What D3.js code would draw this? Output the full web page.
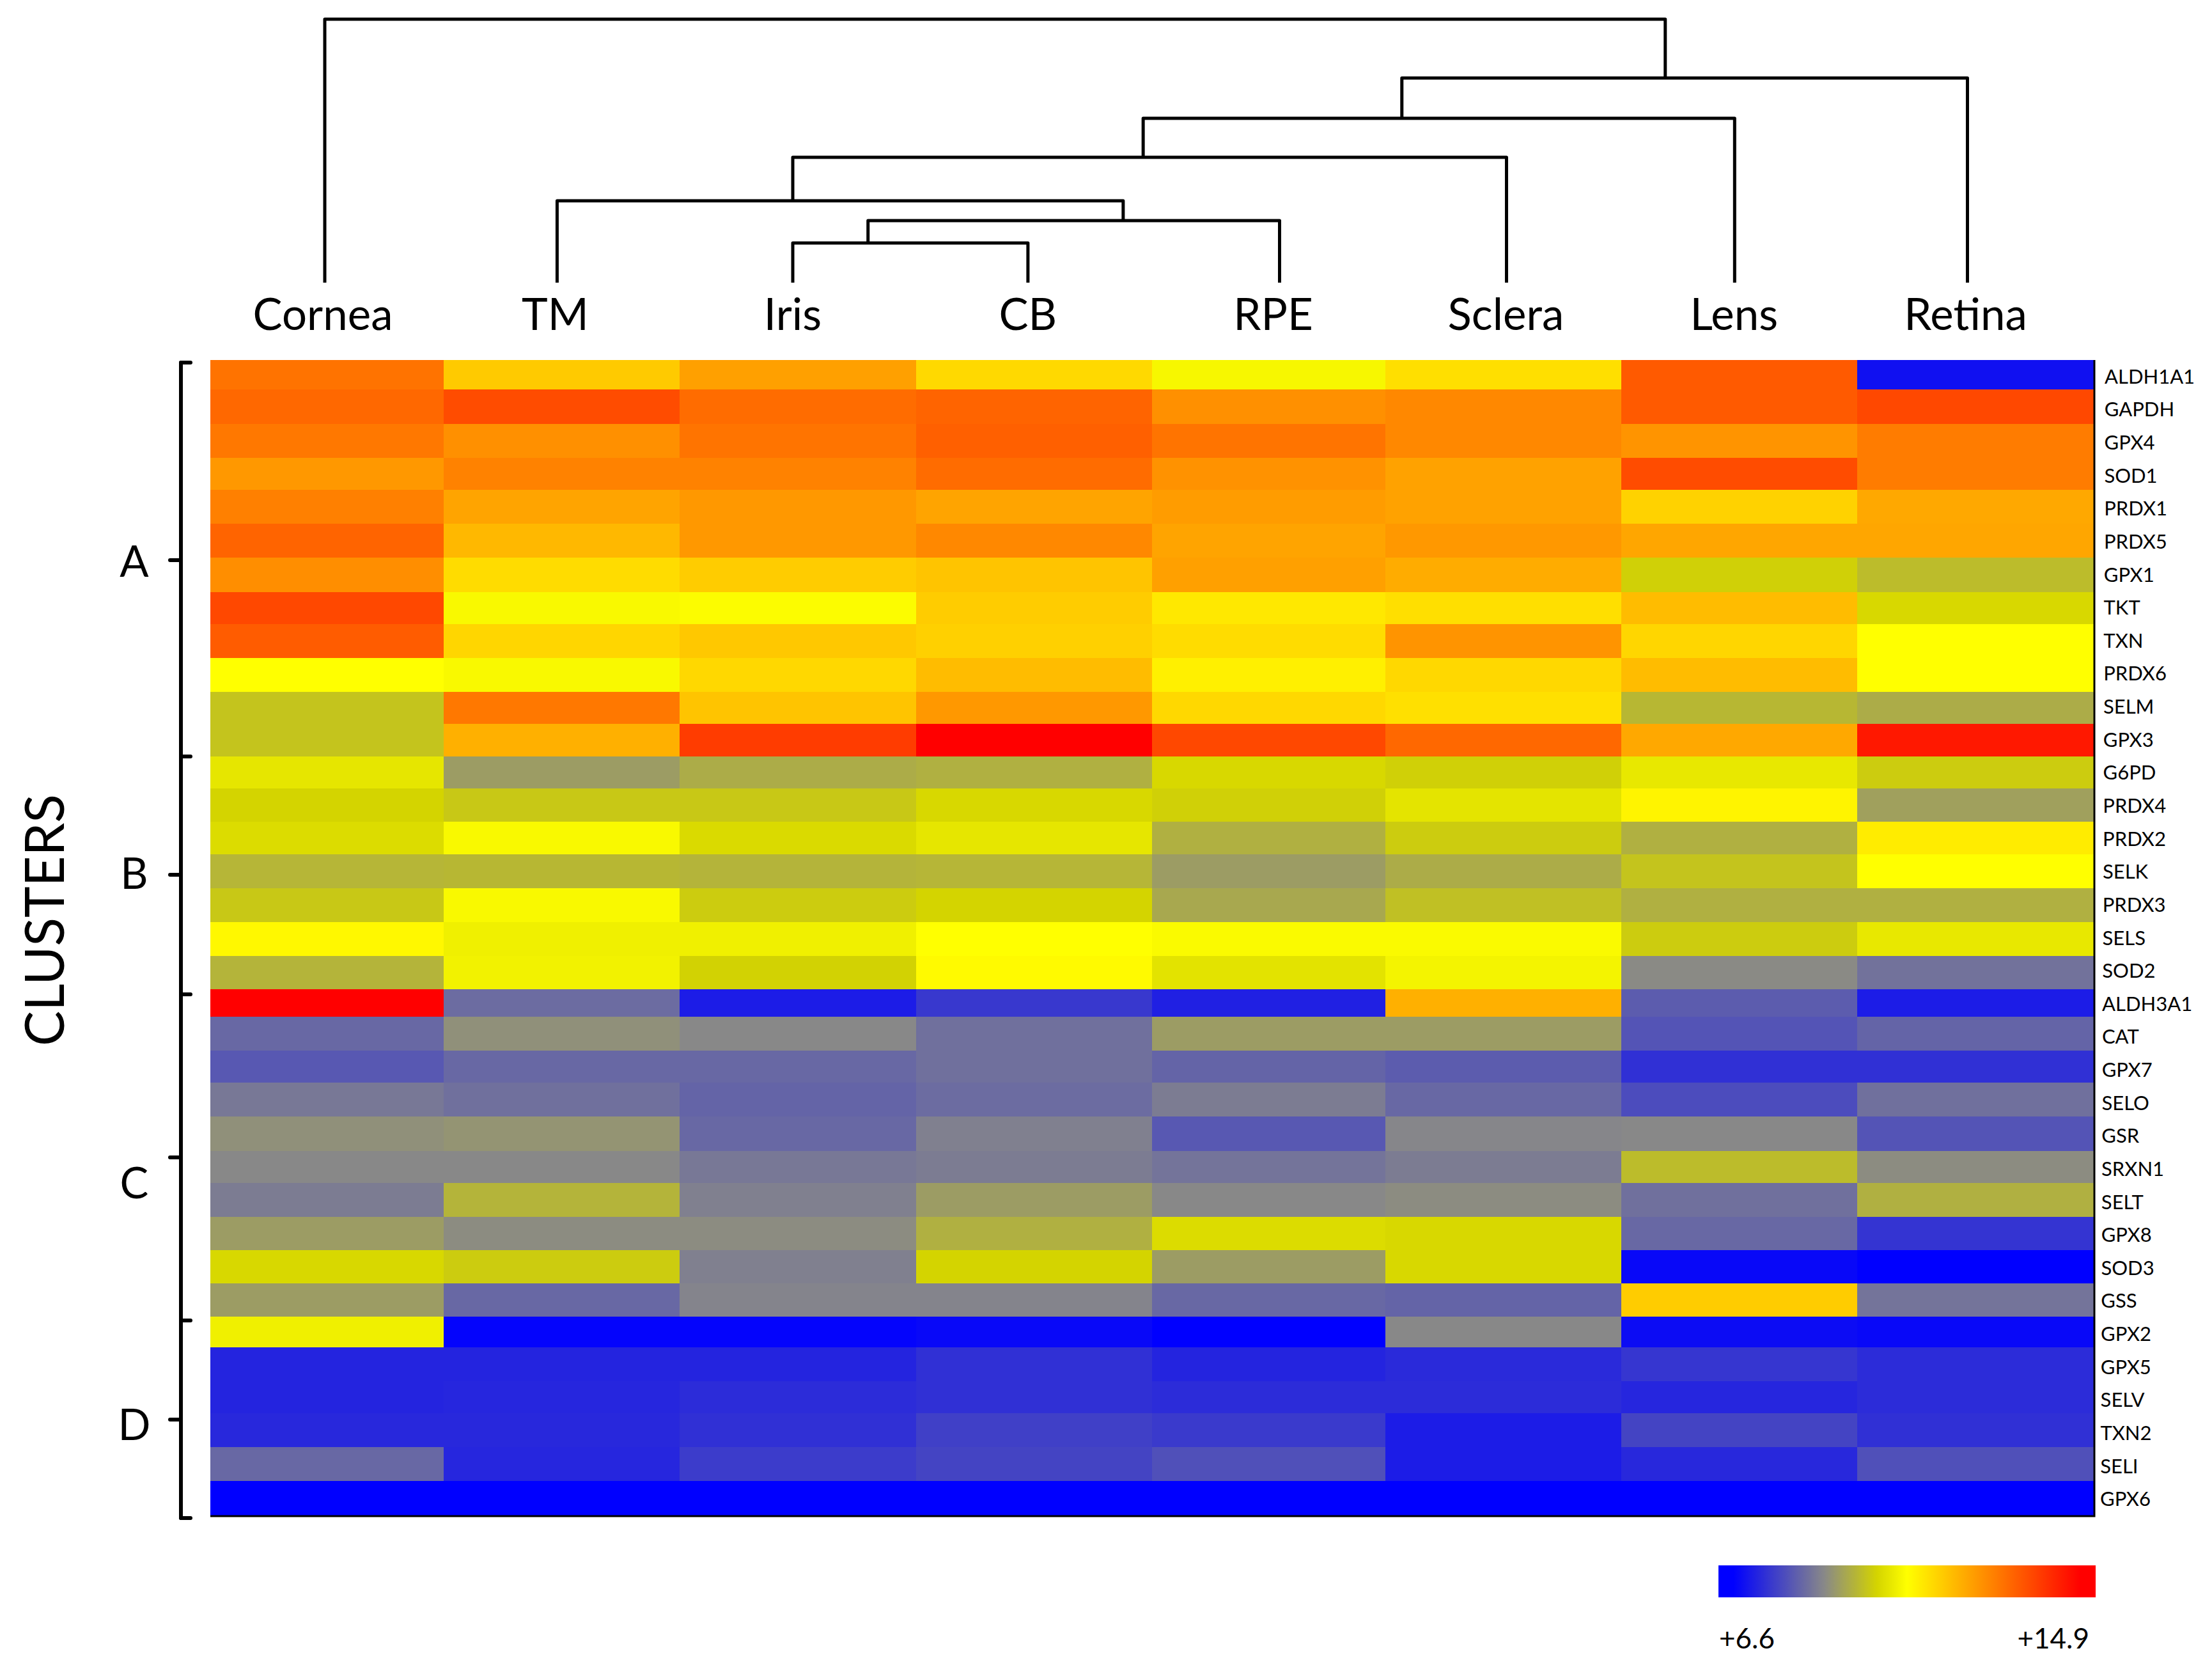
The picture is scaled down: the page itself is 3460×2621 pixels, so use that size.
<!DOCTYPE html>
<html><head><meta charset="utf-8">
<script src="https://cdn.jsdelivr.net/npm/d3@7/dist/d3.min.js"></script>
<style>html,body{margin:0;padding:0;background:#fff}svg{display:block}text{font-family:Lato,"Open Sans",sans-serif;fill:#000}</style>
</head><body><div id="chart"></div>
<script>
// ---------- data ----------
const tissues = ["Cornea","TM","Iris","CB","RPE","Sclera","Lens","Retina"];
const genesA = ["ALDH1A1","GAPDH","GPX4","SOD1","PRDX1","PRDX5","GPX1","TKT","TXN","PRDX6","SELM","GPX3"];
const genesB = ["G6PD","PRDX4","PRDX2","SELK","PRDX3","SELS","SOD2"];
const genesC = ["ALDH3A1","CAT","GPX7","SELO","GSR","SRXN1","SELT","GPX8","SOD3","GSS"];
const genesD = ["GPX2","GPX5","SELV","TXN2","SELI","GPX6"];
const clusterA = [
 [12.85,11.54,12.17,11.32,10.62,11.23,13.22,7.16],
 [13.01,13.43,12.95,13.07,12.41,12.53,13.22,13.49],
 [12.77,12.41,12.83,13.13,12.83,12.53,12.35,12.71],
 [12.29,12.62,12.62,12.95,12.38,12.14,13.43,12.71],
 [12.65,12.11,12.29,12.11,12.23,12.14,11.42,12.05],
 [13.07,11.81,12.29,12.53,12.11,12.29,12.08,12.08],
 [12.44,11.27,11.51,11.63,12.17,11.99,10.03,9.72],
 [13.49,10.65,10.71,11.51,11.09,11.23,11.75,10.15],
 [13.19,11.36,11.57,11.45,11.27,12.35,11.36,10.75],
 [10.75,10.65,11.33,11.75,10.97,11.33,11.75,10.75],
 [9.84,12.77,11.63,12.29,11.33,11.21,9.65,9.47],
 [9.84,11.93,13.67,14.57,13.49,13.01,12.05,14.21]];
const clusterB = [
 [10.37,9.23,9.47,9.53,10.15,10.03,10.4,9.96],
 [10.09,9.9,9.9,10.15,10.03,10.34,10.92,9.29],
 [10.21,10.65,10.18,10.37,9.53,9.96,9.53,11.04],
 [9.62,9.65,9.59,9.62,9.23,9.47,9.84,10.75],
 [9.9,10.65,9.96,10.09,9.41,9.78,9.53,9.53],
 [10.85,10.52,10.52,10.75,10.68,10.68,9.96,10.4],
 [9.59,10.55,10.06,10.82,10.31,10.58,8.95,8.6]];
const clusterC = [
 [14.57,8.51,7.34,7.75,7.4,11.93,8.28,7.34],
 [8.45,9.04,8.92,8.57,9.23,9.23,8.16,8.4],
 [8.22,8.45,8.45,8.57,8.4,8.28,7.63,7.63],
 [8.69,8.57,8.4,8.51,8.75,8.45,8.04,8.57],
 [9.04,9.1,8.45,8.81,8.22,8.89,8.92,8.16],
 [8.92,8.92,8.69,8.75,8.63,8.75,9.72,8.98],
 [8.75,9.59,8.81,9.23,8.92,8.98,8.57,9.53],
 [9.23,8.98,8.98,9.53,10.21,10.15,8.45,7.69],
 [10.15,9.96,8.81,10.09,9.23,10.15,7.05,6.93],
 [9.23,8.45,8.86,8.86,8.45,8.4,11.51,8.63]];
const clusterD = [
 [10.52,6.99,6.99,7.05,6.93,8.92,7.11,7.05],
 [7.46,7.46,7.46,7.63,7.46,7.55,7.72,7.57],
 [7.46,7.49,7.57,7.63,7.57,7.57,7.49,7.57],
 [7.52,7.52,7.63,7.87,7.78,7.34,7.93,7.63],
 [8.45,7.49,7.81,7.93,8.1,7.34,7.52,8.1],
 [6.6,6.6,6.6,6.6,6.6,6.6,6.6,6.6]];
const clusterNames = ["A","B","C","D"];
const legendRange = [6.6,14.9];
const legendLabels = ["+6.6","+14.9"];
// Colour ramp: stop position along the value range, then colour
const rampStops = [0,0.04,0.28,0.42,0.5,0.96,1];
const rampColors = ["#0000ff","#0000ff","#888888","#d4d400","#ffff00","#ff0000","#ff0000"];
// Dendrogram: leaf positions and merge stems in column-index units; heights in arbitrary distance units
const leafPos = [0,0.988,1.99,2.99,4.06,5.025,5.995,6.985];
const merges = [
 {name:"iriscb", left:{leaf:2}, right:{leaf:3}, height:62, stem:2.31},
 {name:"rpe", left:{node:"iriscb"}, right:{leaf:4}, height:97, stem:3.395},
 {name:"tm", left:{leaf:1}, right:{node:"rpe"}, height:128, stem:1.99},
 {name:"sclera", left:{node:"tm"}, right:{leaf:5}, height:196, stem:3.48},
 {name:"lens", left:{node:"sclera"}, right:{leaf:6}, height:257, stem:4.58},
 {name:"retina", left:{node:"lens"}, right:{leaf:7}, height:320, stem:5.70},
 {name:"root", left:{leaf:0}, right:{node:"retina"}, height:412, stem:null}
];
// ---------- layout ----------
const W=3460,H=2621;
const hm={left:329,right:3275,top:563,bottom:2370};
// Relative row and column extents (the source image is not perfectly regular)
const rowWeights=[46,54,53,50,53,53,54,50,53,53,50,51,50,52,51,53,53,53,52,43,53,50,53,54,50,53,52,52,52,48,53,50,53,53,54];
const colWeights=[365,369,370,369,365,369,369,370];
const genes=[...genesA,...genesB,...genesC,...genesD];
const values=[...clusterA,...clusterB,...clusterC,...clusterD];
const cum=w=>{const c=[0];w.forEach(v=>c.push(c[c.length-1]+v));return c;};
const rowEdge=d3.scaleLinear().domain([0,d3.sum(rowWeights)]).range([hm.top,hm.bottom]);
const colEdge=d3.scaleLinear().domain([0,d3.sum(colWeights)]).range([hm.left,hm.right]);
const rowCum=cum(rowWeights), colCum=cum(colWeights);
const y=g=>rowEdge(rowCum[genes.indexOf(g)]);
const yEnd=g=>rowEdge(rowCum[genes.indexOf(g)+1]);
const x=t=>colEdge(colCum[tissues.indexOf(t)]);
const xEnd=t=>colEdge(colCum[tissues.indexOf(t)+1]);
const labelBand=d3.scaleBand().domain(genes).range([hm.top,hm.bottom]);
const vs=d3.scaleLinear().domain([0,1]).range(legendRange);
const color=d3.scaleLinear().domain(rampStops.map(vs)).range(rampColors).interpolate(d3.interpolateRgb).clamp(true);
const svg=d3.select("#chart").append("svg").attr("width",W).attr("height",H).attr("viewBox",`0 0 ${W} ${H}`);
svg.append("rect").attr("width",W).attr("height",H).attr("fill","#fff");

// heatmap
const cells=genes.flatMap((g,i)=>tissues.map((t,j)=>({g,t,v:values[i][j]})));
svg.append("g").attr("shape-rendering","crispEdges").selectAll("rect").data(cells).join("rect")
 .attr("x",d=>x(d.t)).attr("y",d=>y(d.g)).attr("width",d=>xEnd(d.t)-x(d.t)+0.5).attr("height",d=>yEnd(d.g)-y(d.g)+0.5)
 .attr("fill",d=>color(d.v));
// frame right + bottom
svg.append("path").attr("fill","none").attr("stroke","#000").attr("stroke-width",3)
 .attr("d",`M${hm.left},${hm.bottom+1}H${hm.right+1}V${hm.top}`);

// row labels
const labelX=d3.scaleLinear().domain([0,genes.length-1]).range([3292,3285]);
svg.append("g").selectAll("text").data(genes).join("text")
 .attr("x",(d,i)=>labelX(i)).attr("y",d=>labelBand(d)+labelBand.bandwidth()/2+11)
 .attr("font-size",31).text(d=>d);

// dendrogram
const dx=d3.scaleLinear().domain([0,7]).range([508,3083]);
const dy=d3.scaleLinear().domain([0,412]).range([442,30]);
const nodeX={};
const dendPaths=[];
const endX=c=>c.leaf!==undefined?dx(leafPos[c.leaf]):nodeX[c.node];
const endY=c=>c.leaf!==undefined?dy(0):dy(merges.find(m=>m.name===c.node).height);
merges.forEach(m=>{ if(m.stem!==null) nodeX[m.name]=dx(m.stem); });
merges.forEach(m=>{
  const xl=endX(m.left),xr=endX(m.right),yy=dy(m.height);
  dendPaths.push(`M${xl},${endY(m.left)}V${yy}H${xr}V${endY(m.right)}`);
});
svg.append("g").attr("fill","none").attr("stroke","#000").attr("stroke-width",5).attr("stroke-linejoin","round")
 .selectAll("path").data(dendPaths).join("path").attr("d",d=>d);

// column labels
const labelOffset=[-3,-3,0,0,-10,-1,-1,-3];
svg.append("g").selectAll("text").data(tissues).join("text")
 .attr("x",(d,i)=>dx(leafPos[i])+labelOffset[i]).attr("y",516).attr("text-anchor","middle").attr("font-size",69).text(d=>d);

// cluster bracket
const bracketX=283;
const edges=[567,1183,1555,2065,2374];
const br=svg.append("g").attr("fill","none").attr("stroke","#000").attr("stroke-width",6).attr("stroke-linecap","round");
br.append("path").attr("d",`M${bracketX},${edges[0]}V${edges[4]}`);
br.selectAll("path.e").data(edges).join("path").attr("class","e").attr("d",d=>`M${bracketX},${d}H${bracketX+15}`);
const mids=[876,1368,1810,2220];
br.selectAll("path.m").data(mids).join("path").attr("class","m").attr("d",d=>`M${bracketX},${d}H${bracketX-17}`);
const letterY=[902,1390,1874,2252];
svg.append("g").selectAll("text").data(clusterNames).join("text")
 .attr("x",210).attr("y",(d,i)=>letterY[i]).attr("text-anchor","middle").attr("font-size",67).text(d=>d);
svg.append("text").attr("transform","translate(100,1439) rotate(-90)").attr("text-anchor","middle")
 .attr("font-size",86).attr("textLength",394).attr("lengthAdjust","spacingAndGlyphs").text("CLUSTERS");

// colour legend
const defs=svg.append("defs");
const grad=defs.append("linearGradient").attr("id","ramp");
grad.selectAll("stop").data(d3.range(0,1.0001,0.02)).join("stop")
 .attr("offset",d=>d).attr("stop-color",d=>color(vs(d)));
const lx=d3.scaleLinear().domain(legendRange).range([2688,3278]);
svg.append("rect").attr("x",lx(legendRange[0])).attr("y",2448).attr("width",lx(legendRange[1])-lx(legendRange[0])).attr("height",50).attr("fill","url(#ramp)");
svg.append("g").selectAll("text").data(legendLabels).join("text")
 .attr("x",(d,i)=>i===0?lx(legendRange[0])+1:lx(legendRange[1])-10)
 .attr("y",2578).attr("text-anchor",(d,i)=>i===0?"start":"end").attr("font-size",44).text(d=>d);
</script></body></html>
